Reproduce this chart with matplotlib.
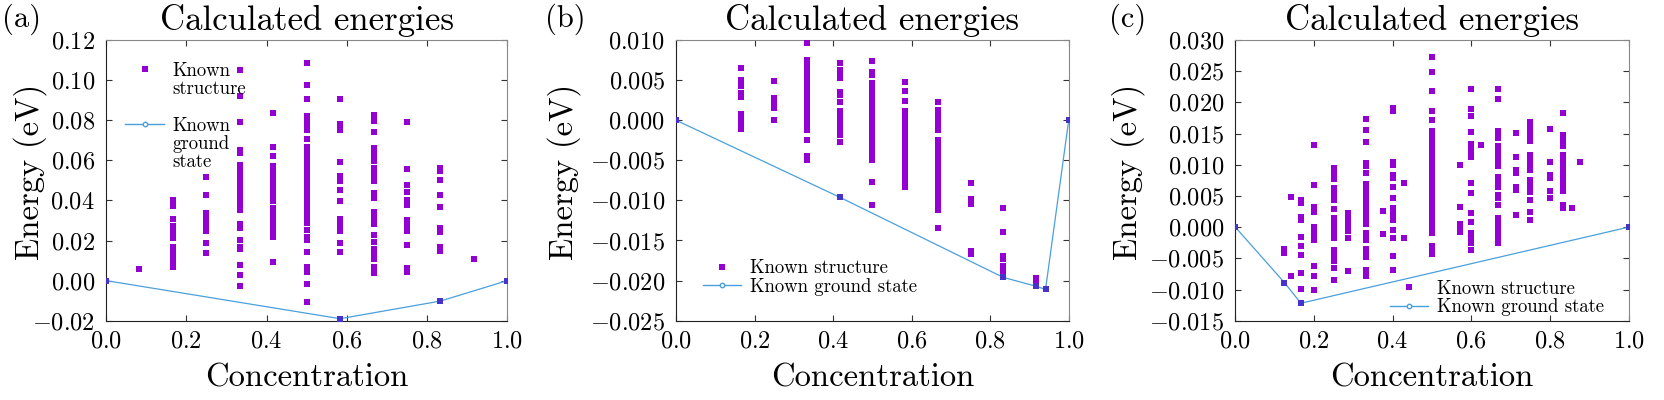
import matplotlib
matplotlib.use("Agg")
import matplotlib.pyplot as plt
from matplotlib.lines import Line2D
from matplotlib.ticker import FuncFormatter, MultipleLocator

# ---- panel (a) ----
a_conc = [1/12, 1/6, 1/4, 1/3, 5/12, 1/2, 7/12, 2/3, 3/4, 5/6, 11/12]
a_energy = [
    [0.0058],
    [0.0403, 0.037, 0.0308, 0.027, 0.0253, 0.0228, 0.0212, 0.017, 0.0153, 0.0137, 0.0107, 0.009, 0.007],
    [0.0515, 0.0425, 0.0337, 0.032, 0.0303, 0.0287, 0.027, 0.0245, 0.019, 0.014],
    [0.105, 0.092, 0.079, 0.0653, 0.0637, 0.0578, 0.0562, 0.0545, 0.0528, 0.0512, 0.0495, 0.0478,
     0.0462, 0.0445, 0.0428, 0.0412, 0.0395, 0.0378, 0.035, 0.028, 0.026, 0.0203, 0.017, 0.0157,
     0.008, 0.003, -0.0027],
    [0.0835, 0.0665, 0.0623, 0.057, 0.0553, 0.0537, 0.052, 0.0503, 0.0487, 0.047, 0.0453, 0.0437,
     0.042, 0.0395, 0.036, 0.033, 0.030, 0.0287, 0.026, 0.0245, 0.0217, 0.0095],
    [0.1085, 0.0975, 0.0905, 0.082, 0.0803, 0.0787, 0.077, 0.0753, 0.0707, 0.0665, 0.0637, 0.062,
     0.0603, 0.0587, 0.057, 0.0553, 0.0537, 0.052, 0.0503, 0.0487, 0.047, 0.0453, 0.0437, 0.042,
     0.0403, 0.0387, 0.037, 0.0353, 0.0337, 0.032, 0.0303, 0.0287, 0.0253, 0.0217, 0.0203, 0.0142,
     0.0067, 0.0045, -0.0017, -0.0105],
    [0.0905, 0.078, 0.0753, 0.059, 0.052, 0.0495, 0.0453, 0.0395, 0.0308, 0.0287, 0.027, 0.0245,
     0.0187, 0.0142],
    [0.0828, 0.0798, 0.0742, 0.0662, 0.0645, 0.0628, 0.0612, 0.0595, 0.056, 0.0545, 0.0528, 0.0512,
     0.0495, 0.0437, 0.041, 0.034, 0.032, 0.0303, 0.0283, 0.0228, 0.0195, 0.016, 0.0137, 0.011,
     0.0067, 0.0037],
    [0.079, 0.0558, 0.0478, 0.044, 0.0403, 0.0378, 0.0303, 0.027, 0.0248, 0.0178, 0.0062, 0.0045],
    [0.0562, 0.0545, 0.05, 0.0425, 0.0365, 0.0262, 0.024, 0.017, 0.015],
    [0.011],
]
a_gs_conc = [0.0, 7/12, 5/6, 1.0]
a_gs_energy = [0.0, -0.019, -0.0102, 0.0]

# ---- panel (b) ----
b_conc = [1/6, 1/4, 1/3, 5/12, 1/2, 7/12, 2/3, 3/4, 5/6, 11/12]
b_energy = [
    [0.00646, 0.005, 0.00458, 0.00425, 0.00333, 0.00292, 0.00083, 0.00042, 0.0, -0.00042, -0.00104],
    [0.00488, 0.00271, 0.00208, 0.00146, 0.0],
    [0.00967, 0.0075, 0.00708, 0.00667, 0.00625, 0.00583, 0.00542, 0.005, 0.00458, 0.00417, 0.00375,
     0.00333, 0.00292, 0.0025, 0.00208, 0.00167, 0.00125, 0.00083, 0.00042, 0.0, -0.00042, -0.00083,
     -0.00125, -0.00242, -0.0045, -0.005],
    [0.00708, 0.00625, 0.00575, 0.00521, 0.00354, 0.00313, 0.00221, 0.00117, 0.00075, 0.00033,
     -0.00008, -0.0005, -0.00092, -0.00146, -0.00188, -0.00271],
    [0.00742, 0.00604, 0.00563, 0.00467, 0.00425, 0.00383, 0.00342, 0.003, 0.00258, 0.00217, 0.00175,
     0.00133, 0.00092, 0.0005, 0.00008, -0.00033, -0.00075, -0.00117, -0.00158, -0.002, -0.00242,
     -0.00283, -0.00325, -0.00367, -0.00408, -0.0045, -0.00492, -0.00771, -0.01054],
    [0.00479, 0.00363, 0.00238, 0.00117, 0.00075, 0.0, -0.00042, -0.00083, -0.00125, -0.00167,
     -0.00208, -0.0025, -0.00292, -0.00333, -0.00375, -0.00417, -0.00458, -0.005, -0.00542, -0.00583,
     -0.00625, -0.00667, -0.00708, -0.0075, -0.00792, -0.00833],
    [0.00221, 0.00133, 0.00092, 0.0005, 0.00008, -0.00033, -0.00075, -0.00117, -0.0025, -0.00292,
     -0.00333, -0.00375, -0.00417, -0.00458, -0.005, -0.00542, -0.00583, -0.00625, -0.00667,
     -0.00708, -0.0075, -0.00792, -0.00833, -0.00875, -0.00917, -0.00958, -0.01, -0.01042, -0.01083,
     -0.01125, -0.01342],
    [-0.00783, -0.00988, -0.01042, -0.01625, -0.01667],
    [-0.01096, -0.01396, -0.01688, -0.01729, -0.01813, -0.01854, -0.01896, -0.01938],
    [-0.01967, -0.02008, -0.0205],
]
b_gs_conc = [0.0, 5/12, 5/6, 11/12, 0.941, 1.0]
b_gs_energy = [0.0, -0.0096, -0.0196, -0.0207, -0.0211, 0.0]

# ---- panel (c) ----
c_conc = [1/8, 1/7, 1/6, 1/5, 1/4, 2/7, 1/3, 3/8, 2/5, 3/7, 1/2, 4/7, 3/5, 5/8, 2/3,
          5/7, 3/4, 4/5, 5/6, 6/7, 7/8]
c_energy = [
    [-0.0035, -0.0041],
    [0.0049, -0.0079],
    [0.0043, 0.0038, 0.0017, 0.0012, -0.0016, -0.003, -0.0045, -0.0073, -0.0099],
    [0.0132, 0.0068, 0.0032, 0.0025, 0.0, -0.0007, -0.0014, -0.002, -0.0062, -0.0078, -0.0101],
    [0.0094, 0.0087, 0.0077, 0.0063, 0.0056, 0.0049, 0.0044, 0.0029, 0.0014, 0.0009, 0.0004, -0.0002,
     -0.0007, -0.0012, -0.0018, -0.0036, -0.0042, -0.0048, -0.0054, -0.0066, -0.0085],
    [0.0023, 0.0017, 0.0012, 0.0006, 0.0001, -0.0007, -0.0017, -0.0071],
    [0.0174, 0.0156, 0.0137, 0.0103, 0.0098, 0.0087, 0.0069, 0.0064, 0.0058, 0.0053, 0.0048, 0.0042,
     0.0037, 0.0031, 0.0026, 0.0021, 0.0015, 0.001, 0.0005, -0.001, -0.0015, -0.0021, -0.0035,
     -0.0042, -0.0048, -0.0069, -0.0074, -0.0079],
    [0.0026, -0.0011],
    [0.0191, 0.0186, 0.0104, 0.0099, 0.0084, 0.0079, 0.0065, 0.0046, 0.003, 0.0024, 0.0017, 0.0012,
     -0.0005, -0.0018, -0.0046, -0.0069],
    [0.007, -0.0018],
    [0.0272, 0.0249, 0.0219, 0.0186, 0.0171, 0.0154, 0.0146, 0.0141, 0.0135, 0.013, 0.0125, 0.0119,
     0.0114, 0.0109, 0.0103, 0.0098, 0.0093, 0.0087, 0.0082, 0.0077, 0.0071, 0.0066, 0.0061, 0.0055,
     0.005, 0.0045, 0.0039, 0.0034, 0.0029, 0.0023, 0.0018, 0.0013, 0.0007, 0.0002, -0.0003, -0.001,
     -0.003, -0.0036, -0.0043],
    [0.01, 0.0033, 0.0005, 0.0, -0.0008],
    [0.0221, 0.0189, 0.0178, 0.0153, 0.0134, 0.0127, 0.0119, 0.0113, 0.0071, 0.0055, 0.0023, 0.0009,
     -0.0009, -0.0014, -0.002, -0.0025, -0.0036],
    [0.0132],
    [0.0222, 0.0205, 0.0154, 0.0148, 0.0143, 0.013, 0.0124, 0.0114, 0.0109, 0.0103, 0.0098, 0.0081,
     0.0076, 0.0071, 0.0065, 0.0052, 0.0047, 0.0036, 0.0014, 0.0009, 0.0004, -0.0002, -0.0007,
     -0.0016, -0.0026],
    [0.0151, 0.0113, 0.0092, 0.0087, 0.0065, 0.006, 0.0019],
    [0.0168, 0.0163, 0.0158, 0.0152, 0.0147, 0.0141, 0.0138, 0.0116, 0.0111, 0.0106, 0.01, 0.0095,
     0.0092, 0.0076, 0.0071, 0.0065, 0.0056, 0.0043, 0.0025, 0.0012],
    [0.0158, 0.0104, 0.0084, 0.0079, 0.0058, 0.0046],
    [0.0183, 0.0147, 0.0141, 0.0136, 0.013, 0.0115, 0.0106, 0.0101, 0.0095, 0.009, 0.0085, 0.0079,
     0.0073, 0.0068, 0.0063, 0.0058, 0.0036, 0.0031],
    [0.0031],
    [0.0104],
]
c_gs_conc = [0.0, 1/8, 1/6, 1.0]
c_gs_energy = [0.0, -0.0089, -0.0122, 0.0]

a_yticks = [-0.02, 0.00, 0.02, 0.04, 0.06, 0.08, 0.10, 0.12]
b_yticks = [-0.025, -0.020, -0.015, -0.010, -0.005, 0.000, 0.005, 0.010]
c_yticks = [-0.015, -0.010, -0.005, 0.000, 0.005, 0.010, 0.015, 0.020, 0.025, 0.030]

PURPLE = "#9400D3"
GS_SQUARE = "#4632cc"
GS_LINE = "#4aa0dc"

plt.rcParams["font.family"] = "serif"
plt.rcParams["font.serif"] = ["cmr10", "DejaVu Serif"]
plt.rcParams["mathtext.fontset"] = "cm"
plt.rcParams["axes.formatter.use_mathtext"] = True

fig = plt.figure(figsize=(16.64, 4.0), dpi=100)

panels = [
    ("(a)", a_conc, a_energy, a_gs_conc, a_gs_energy, a_yticks, 2,
     [0.0637, 0.19825, 0.2412, 0.70175], 2 / 1664, -0.147),
    ("(b)", b_conc, b_energy, b_gs_conc, b_gs_energy, b_yticks, 3,
     [0.40625, 0.19825, 0.2360, 0.70175], 545 / 1664, -0.241),
    ("(c)", c_conc, c_energy, c_gs_conc, c_gs_energy, c_yticks, 3,
     [0.74237, 0.19825, 0.2364, 0.70175], 1109 / 1664, -0.230),
]

for tag, conc, energy, gs_x, gs_y, yticks, ndec, rect, tag_x, ylab_x in panels:
    ax = fig.add_axes(rect)

    xs, ys = [], []
    for c, col in zip(conc, energy):
        xs += [c] * len(col)
        ys += col
    ax.plot(xs, ys, linestyle="none", marker="s", ms=4.6, mew=0, color=PURPLE, zorder=3)
    ax.plot(gs_x, gs_y, color=GS_LINE, lw=0.9, zorder=4)
    ax.plot(gs_x, gs_y, linestyle="none", marker="s", ms=4.6, mew=0, color=GS_SQUARE, zorder=5)

    ax.set_xlim(0, 1)
    ax.set_ylim(yticks[0], yticks[-1])
    ax.xaxis.set_major_locator(MultipleLocator(0.2))
    ax.set_yticks(yticks)
    ax.xaxis.set_major_formatter(FuncFormatter(lambda v, p: "$%.1f$" % v))
    ax.yaxis.set_major_formatter(FuncFormatter(lambda v, p, n=ndec: "$%.*f$" % (n, v)))
    ax.tick_params(direction="in", top=True, right=True, length=4, width=0.8,
                   color="#333333", labelsize=17.5)
    ax.tick_params(axis="y", pad=8)
    ax.tick_params(axis="x", pad=7)
    for side in ("left", "bottom"):
        ax.spines[side].set_color("#222222")
    for side in ("top", "right"):
        ax.spines[side].set_color("#888888")

    ax.set_title("Calculated energies", fontsize=25, pad=7)
    ax.set_xlabel("Concentration", fontsize=23.5, labelpad=8)
    ax.set_ylabel("Energy (eV)", fontsize=23.5)
    ax.yaxis.set_label_coords(ylab_x, 0.53)
    fig.text(tag_x, 0.99, tag, fontsize=22, ha="left", va="top")

    struct_h = Line2D([], [], linestyle="none", marker="s", ms=4.6, mew=0, color=PURPLE)
    gs_h = Line2D([], [], color=GS_LINE, lw=1.0, marker="o", ms=3.2, mfc="white", mec=GS_LINE)
    blank = Line2D([], [], linestyle="none")
    legend_kw = dict(frameon=False, fontsize=13.5, borderpad=0, labelspacing=0.02,
                     handlelength=2.05, handletextpad=0.45)
    if tag == "(a)":
        ax.legend([struct_h, blank, blank, gs_h, blank, blank],
                  ["Known", "structure", " ", "Known", "ground", "state"],
                  loc="upper left", bbox_to_anchor=(0.025, 0.955), **legend_kw)
    elif tag == "(b)":
        ax.legend([struct_h, gs_h], ["Known structure", "Known ground state"],
                  loc="lower left", bbox_to_anchor=(0.045, 0.056), **legend_kw)
    else:
        ax.legend([struct_h, gs_h], ["Known structure", "Known ground state"],
                  loc="lower right", bbox_to_anchor=(0.96, -0.018), **legend_kw)

fig.savefig("out.png", dpi=100)
